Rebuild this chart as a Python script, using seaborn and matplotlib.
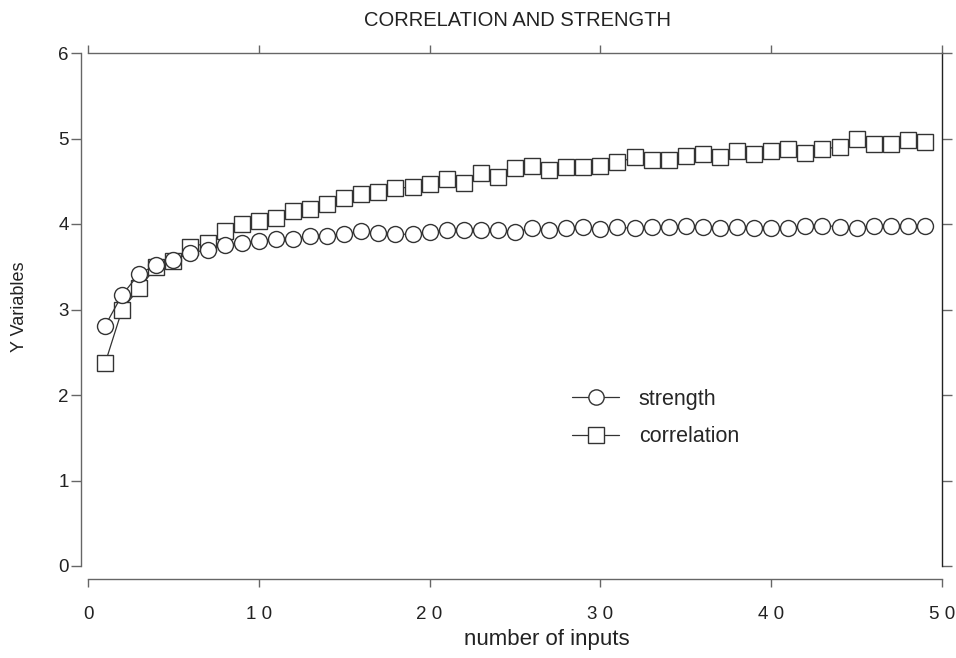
import numpy as np
import pandas as pd
import seaborn as sns
import matplotlib.pyplot as plt
from matplotlib.lines import Line2D

sns.set_theme(style='white')
plt.rcParams['font.family'] = ['Liberation Sans', 'DejaVu Sans']

inputs = list(range(1, 50))
strength = [2.81, 3.17, 3.42, 3.52, 3.58, 3.66, 3.70, 3.75, 3.78, 3.80,
            3.83, 3.83, 3.86, 3.86, 3.88, 3.92, 3.89, 3.88, 3.88, 3.91,
            3.93, 3.93, 3.93, 3.93, 3.91, 3.95, 3.93, 3.95, 3.96, 3.94,
            3.96, 3.95, 3.96, 3.96, 3.98, 3.96, 3.95, 3.96, 3.95, 3.95,
            3.95, 3.98, 3.98, 3.97, 3.95, 3.98, 3.98, 3.98, 3.98]
correlation = [2.37, 3.00, 3.25, 3.50, 3.57, 3.73, 3.78, 3.92, 4.00, 4.03,
               4.07, 4.15, 4.18, 4.23, 4.30, 4.35, 4.37, 4.42, 4.43, 4.47,
               4.53, 4.48, 4.60, 4.55, 4.65, 4.68, 4.63, 4.67, 4.67, 4.68,
               4.72, 4.78, 4.75, 4.75, 4.80, 4.82, 4.78, 4.85, 4.82, 4.85,
               4.88, 4.83, 4.88, 4.90, 5.00, 4.93, 4.93, 4.98, 4.96]
x_ticks = [0, 10, 20, 30, 40, 50]
x_tick_labels = ['0', '1 0', '2 0', '3 0', '4 0', '5 0']
y_ticks = [0, 1, 2, 3, 4, 5, 6]
y_tick_labels = ['0', '1', '2', '3', '4', '5', '6']
series_names = ['strength', 'correlation']

df = pd.DataFrame({
    'inputs': inputs + inputs,
    'value': strength + correlation,
    'series': ['strength'] * len(inputs) + ['correlation'] * len(inputs),
})

W, H = 956, 658
fig = plt.figure(figsize=(W / 100, H / 100), dpi=100)
ax = fig.add_axes([88 / W, 1 - 566 / H, (942 - 88) / W, (566 - 53) / H])

lc = '#333333'
common = dict(x='inputs', y='value', ax=ax, color=lc, linewidth=0.9,
              markerfacecolor='white', markeredgecolor=lc, markeredgewidth=1.0,
              legend=False)
sns.lineplot(data=df[df.series == 'correlation'], marker='s', markersize=12, **common)
sns.lineplot(data=df[df.series == 'strength'], marker='o', markersize=11.5, **common)

ax.set_xlim(0, 50)
ax.set_ylim(0, 6)

ax.spines['left'].set_position(('outward', 5))
ax.spines['bottom'].set_position(('outward', 9))
for s in ['left', 'bottom', 'top']:
    ax.spines[s].set_color('#666666')
    ax.spines[s].set_linewidth(1.0)
ax.spines['right'].set_color('#222222')
ax.spines['right'].set_linewidth(1.0)

ax.set_xticks(x_ticks)
ax.set_xticklabels(x_tick_labels)
ax.set_yticks(y_ticks)
ax.set_yticklabels(y_tick_labels)
ax.tick_params(axis='x', which='both', bottom=True, top=True, direction='out',
               length=6, width=1, color='#666666', labelsize=13.5, pad=14,
               labelcolor='#222222')
ax.tick_params(axis='y', which='both', left=True, right=True, direction='out',
               length=7, width=1, color='#666666', labelsize=13.5, pad=2,
               labelcolor='#222222')

ax.set_xlabel('number of inputs', fontsize=16, color='#222222')
ax.xaxis.set_label_coords((547 - 88) / 854, (566 - 629) / 513)
ax.set_ylabel('Y Variables', fontsize=13, color='#222222')
ax.yaxis.set_label_coords((28 - 88) / 854, (566 - 307) / 513)

fig.text(518 / W, 1 - 20 / H, 'CORRELATION AND STRENGTH', ha='center',
         va='center', fontsize=14.5, color='#222222')

handles = [
    Line2D([], [], color=lc, linewidth=0.9, marker='o', markersize=11,
           markerfacecolor='white', markeredgecolor=lc),
    Line2D([], [], color=lc, linewidth=0.9, marker='s', markersize=11,
           markerfacecolor='white', markeredgecolor=lc),
]
ax.legend(handles, series_names, loc='upper left', frameon=False,
          bbox_to_anchor=((572 - 88) / 854, (566 - 389) / 513),
          fontsize=15.5, handlelength=2.2, handletextpad=0.9, labelspacing=0.75,
          borderaxespad=0, borderpad=0)

fig.savefig('out.png', dpi=100)
